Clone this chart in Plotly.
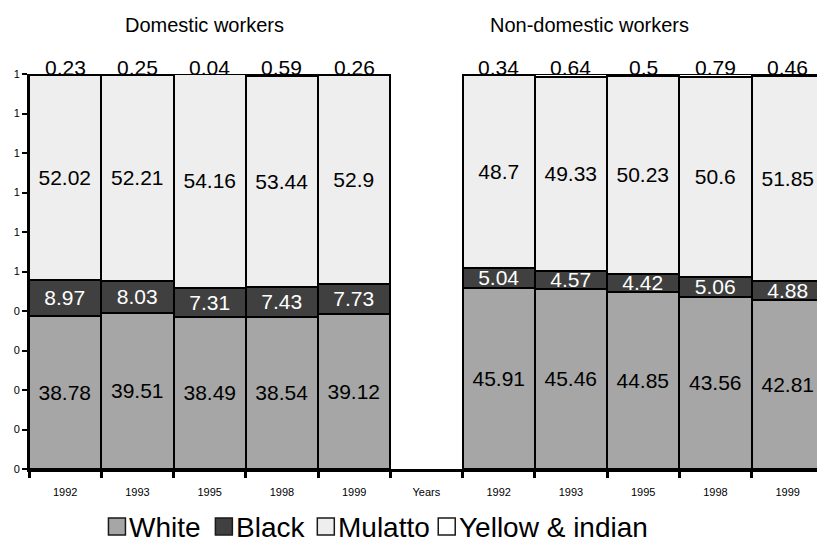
import plotly.graph_objects as go

# ---- data ----
x_labels = ["1992", "1993", "1995", "1998", "1999", "Years",
            "1992", "1993", "1995", "1998", "1999"]
white = [38.78, 39.51, 38.49, 38.54, 39.12, None, 45.91, 45.46, 44.85, 43.56, 42.81]
black = [8.97, 8.03, 7.31, 7.43, 7.73, None, 5.04, 4.57, 4.42, 5.06, 4.88]
mulatto = [52.02, 52.21, 54.16, 53.44, 52.9, None, 48.7, 49.33, 50.23, 50.6, 51.85]
yellow_indian = [0.23, 0.25, 0.04, 0.59, 0.26, None, 0.34, 0.64, 0.5, 0.79, 0.46]
y_tick_values = [0, 0.1, 0.2, 0.3, 0.4, 0.5, 0.6, 0.7, 0.8, 0.9, 1.0]
y_tick_labels = ["0", "0", "0", "0", "0", "1", "1", "1", "1", "1", "1"]
group_titles = ["Domestic workers", "Non-domestic workers"]
series_names = ["White", "Black", "Mulatto", "Yellow & indian"]

FONT = "Arial, Liberation Sans, sans-serif"
COLORS = ["#A6A6A6", "#404040", "#EEEEEE", "#FFFFFF"]
TEXT_COLORS = ["#000000", "#FFFFFF", "#000000", "#000000"]
xpos = list(range(len(x_labels)))

# plot-area geometry (page pixels)
W, H = 817, 546
PL, PT, PB = 28.5, 74.0, 469.5
PW = W - PL
PH = PB - PT
CAT_W = 72.3


def paper_x(px):
    return (px - PL) / PW


def paper_y(py):
    return (PB - py) / PH


def frac(vals):
    return [None if v is None else v / 100 for v in vals]


def txt(vals):
    return ["" if v is None else f"{v:g}" for v in vals]


fig = go.Figure()
all_vals = [white, black, mulatto, yellow_indian]
for k, (name, vals) in enumerate(zip(series_names, all_vals)):
    top = k == 3
    fig.add_trace(go.Bar(
        name=name, x=xpos, y=frac(vals), width=1.0,
        marker=dict(color=COLORS[k], line=dict(color="#000000", width=2.5)),
        text=None if top else txt(vals),
        textposition="none" if top else "inside",
        insidetextanchor="middle", textangle=0, constraintext="none",
        textfont=dict(family=FONT, size=21, color=TEXT_COLORS[k]),
        hoverinfo="skip", showlegend=False,
    ))

annotations = []
# labels for the thin top segment, placed just above each bar's total
for i, v in enumerate(yellow_indian):
    if v is None:
        continue
    total = (white[i] + black[i] + mulatto[i] + v) / 100
    annotations.append(dict(
        x=xpos[i], y=min(round(total, 4), 1.0), xref="x", yref="y", text=f"{v:g}",
        showarrow=False, yanchor="middle", yshift=7,
        font=dict(family=FONT, size=21, color="#000000"),
    ))
# group titles
for t, cx in zip(group_titles, [204, 589]):
    annotations.append(dict(
        x=paper_x(cx), y=paper_y(25), xref="paper", yref="paper", text=t,
        showarrow=False, xanchor="center", yanchor="middle",
        font=dict(family=FONT, size=20, color="#000000"),
    ))

# custom legend (square swatch + label)
shapes = []
legend_left = [108, 215, 317, 438]
SW = 17
LEG_Y = 527
for k, name in enumerate(series_names):
    x0 = legend_left[k]
    shapes.append(dict(
        type="rect", xref="paper", yref="paper",
        x0=paper_x(x0), x1=paper_x(x0 + SW),
        y0=paper_y(LEG_Y + SW / 2), y1=paper_y(LEG_Y - SW / 2),
        fillcolor=COLORS[k], line=dict(color="#1A1A1A", width=1.5),
    ))
    annotations.append(dict(
        x=paper_x(x0 + SW + 2), y=paper_y(LEG_Y + 1), xref="paper", yref="paper",
        text=name, showarrow=False, xanchor="left", yanchor="middle",
        font=dict(family=FONT, size=28, color="#000000"),
    ))

fig.update_layout(
    width=W, height=H,
    margin=dict(l=PL, r=0, t=PT, b=H - PB, autoexpand=False),
    barmode="stack", bargap=0,
    plot_bgcolor="#FFFFFF", paper_bgcolor="#FFFFFF",
    font=dict(family=FONT, color="#000000"),
    annotations=annotations, shapes=shapes,
    showlegend=False,
    xaxis=dict(
        range=[-0.5, -0.5 + PW / CAT_W], tickmode="array", tickvals=xpos, ticktext=x_labels,
        ticks="", showgrid=False, zeroline=False,
        showline=True, linecolor="#000000", linewidth=2.5,
        tickfont=dict(family=FONT, size=11), ticklabelstandoff=11,
        minor=dict(tickmode="array", tickvals=[i - 0.5 for i in range(len(x_labels) + 1)],
                   ticks="outside", ticklen=6, tickwidth=2.5, tickcolor="#000000",
                   showgrid=False),
    ),
    yaxis=dict(
        range=[0, 1.0], tickmode="array", tickvals=y_tick_values, ticktext=y_tick_labels,
        ticks="outside", ticklen=5, tickwidth=2, tickcolor="#000000",
        showgrid=False, zeroline=False,
        showline=True, linecolor="#000000", linewidth=2,
        tickfont=dict(family=FONT, size=11),
    ),
)

fig.write_html(
    "out.html",
    config={"displayModeBar": False},
    post_script="document.body.style.margin='0';document.body.style.overflow='hidden';",
)
